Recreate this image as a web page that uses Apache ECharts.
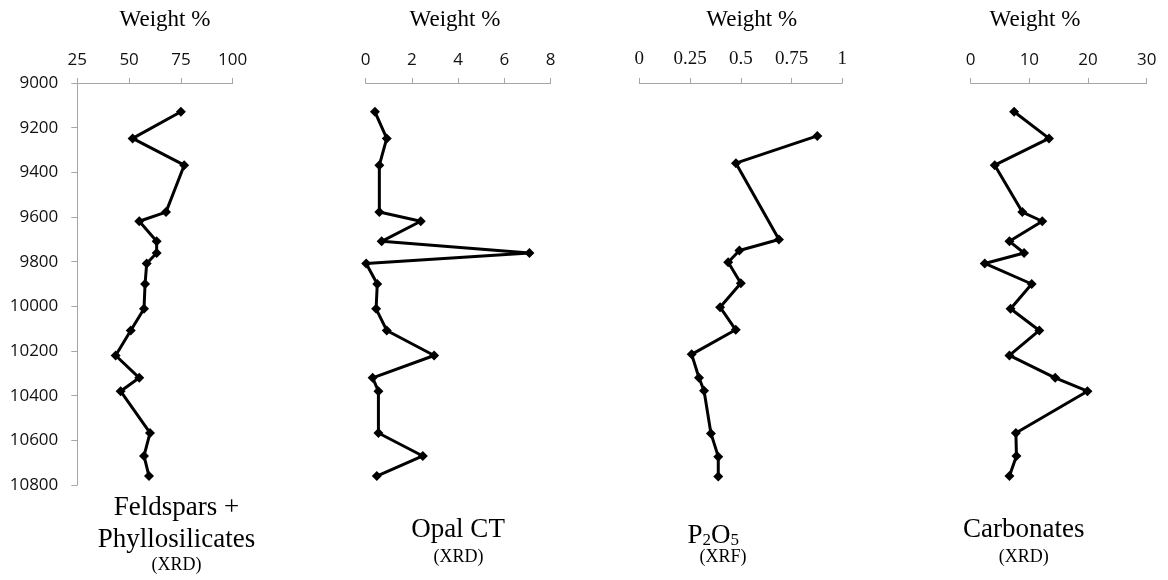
<!DOCTYPE html>
<html>
<head>
<meta charset="utf-8">
<style>
  html, body { margin: 0; padding: 0; background: #fff; }
  #chart { width: 1168px; height: 580px; }
</style>
<script src="https://cdn.jsdelivr.net/npm/echarts@6/dist/echarts.min.js"></script>
</head>
<body>
<div id="chart"></div>
<script>
// Depths (shared by XRD series)
const depths = [9129, 9248, 9368, 9578, 9619, 9709, 9761, 9808, 9900, 10011, 10108, 10220, 10320, 10380, 10567, 10670, 10760];
const feldPhyllo = [75.0, 51.7, 76.6, 67.8, 54.9, 63.3, 63.3, 58.5, 57.7, 57.2, 50.8, 43.5, 54.9, 45.9, 60.1, 57.2, 59.6];
const opalCT = [0.40, 0.91, 0.59, 0.59, 2.38, 0.69, 7.08, 0.02, 0.50, 0.45, 0.91, 2.96, 0.30, 0.55, 0.55, 2.47, 0.48];
const carbonates = [7.4, 13.35, 4.1, 8.8, 12.2, 6.6, 9.1, 2.4, 10.4, 6.8, 11.7, 6.6, 14.4, 19.9, 7.7, 7.8, 6.6];
// P2O5 (XRF)
const p2o5Depths = [9237, 9359, 9701, 9750, 9803, 9897, 10004, 10105, 10215, 10320, 10378, 10569, 10673, 10762];
const p2o5 = [0.877, 0.476, 0.688, 0.493, 0.438, 0.50, 0.398, 0.475, 0.258, 0.294, 0.319, 0.353, 0.389, 0.389];
// Axis ranges
const xRanges = [[25, 100, 25], [0, 8, 2], [0, 1, 0.25], [0, 30, 10]];
const depthRange = [9000, 10800, 200];

const pairs = (xs, ys) => xs.map((v, i) => [v, ys[i]]);

const gridTop = 83, gridH = 402;
const grids = [
  { left: 77.3, top: gridTop, width: 155.4, height: gridH },
  { left: 365.7, top: gridTop, width: 185, height: gridH },
  { left: 639.3, top: gridTop, width: 203, height: gridH },
  { left: 970.7, top: gridTop, width: 176, height: gridH }
];
const axisGray = '#a6a6a6';
const sans = 'Open Sans';
const serif = 'Liberation Serif';

const xAxis = xRanges.map((r, i) => ({
  type: 'value', gridIndex: i, position: 'top',
  min: r[0], max: r[1], interval: r[2],
  axisLine: { show: true, lineStyle: { color: axisGray, width: 1 } },
  axisTick: { show: true, inside: false, length: 5, lineStyle: { color: axisGray } },
  axisLabel: {
    show: true, margin: 14,
    fontFamily: i === 2 ? serif : sans, fontSize: i === 2 ? 19 : 17, color: '#111',
    formatter: v => String(v)
  },
  splitLine: { show: false }
}));

const yAxis = grids.map((g, i) => ({
  type: 'value', gridIndex: i, inverse: true,
  min: depthRange[0], max: depthRange[1], interval: depthRange[2],
  show: i === 0,
  axisLine: { show: i === 0, onZero: false, lineStyle: { color: axisGray, width: 1 } },
  axisTick: { show: i === 0, length: 6, lineStyle: { color: axisGray } },
  axisLabel: { show: i === 0, margin: 19, fontFamily: sans, fontSize: 17, color: '#111',
    formatter: v => String(v) },
  splitLine: { show: false }
}));

const mkSeries = (idx, data) => ({
  type: 'line', xAxisIndex: idx, yAxisIndex: idx, data: data,
  symbol: 'diamond', symbolSize: 10, showSymbol: true,
  lineStyle: { color: '#000', width: 3 },
  itemStyle: { color: '#000' },
  animation: false, clip: false
});

const txt = (x, y, text, size, extra) => Object.assign({
  type: 'text', x: x, y: y, silent: true,
  style: {
    text: text, fontFamily: serif, fontSize: size, fill: '#000',
    textAlign: 'center', textVerticalAlign: 'middle', align: 'center', verticalAlign: 'middle'
  }
}, extra || {});

const graphics = [
  txt(165, 19.5, 'Weight %', 23),
  txt(455, 19.5, 'Weight %', 23),
  txt(751.7, 19.5, 'Weight %', 23),
  txt(1035, 19.5, 'Weight %', 23),
  txt(176.5, 508, 'Feldspars +', 27),
  txt(176.5, 539.5, 'Phyllosilicates', 27),
  txt(176.5, 565, '(XRD)', 18),
  txt(458, 529.5, 'Opal CT', 27),
  txt(458.5, 557.5, '(XRD)', 18),
  {
    type: 'text', x: 713.3, y: 532, silent: true,
    style: {
      text: '{m|P}{s|2}{m|O}{s|5}',
      textAlign: 'center', textVerticalAlign: 'middle', align: 'center', verticalAlign: 'middle',
      fill: '#000',
      rich: {
        m: { fontFamily: serif, fontSize: 27, lineHeight: 34, verticalAlign: 'bottom', fill: '#000', color: '#000' },
        s: { fontFamily: serif, fontSize: 17, lineHeight: 16, verticalAlign: 'bottom', fill: '#000', color: '#000' }
      }
    }
  },
  txt(723, 557.5, '(XRF)', 18),
  txt(1023.7, 529.5, 'Carbonates', 27),
  txt(1023.7, 557.5, '(XRD)', 18)
];

const chart = echarts.init(document.getElementById('chart'), null, { renderer: 'canvas' });
chart.setOption({
  animation: false,
  backgroundColor: '#fff',
  grid: grids,
  xAxis: xAxis,
  yAxis: yAxis,
  series: [
    mkSeries(0, pairs(feldPhyllo, depths)),
    mkSeries(1, pairs(opalCT, depths)),
    mkSeries(2, pairs(p2o5, p2o5Depths)),
    mkSeries(3, pairs(carbonates, depths))
  ],
  graphic: graphics
});
</script>
</body>
</html>
